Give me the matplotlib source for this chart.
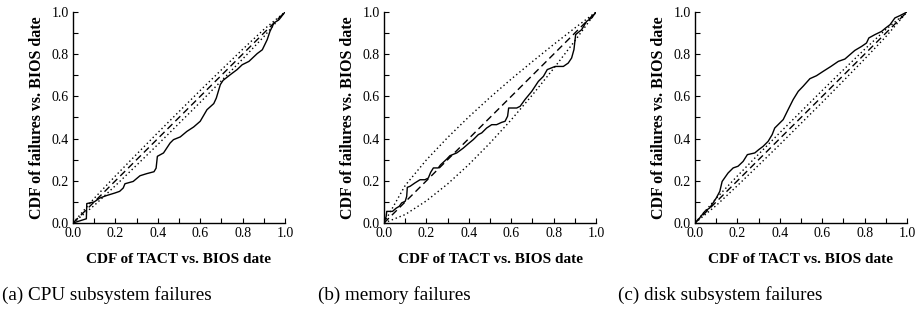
"""
CDF of failures vs. BIOS date against CDF of TACT vs. BIOS date,
for three failure classes (CPU, memory, disk).
"""
import numpy as np
import matplotlib
matplotlib.use('Agg')
import matplotlib.pyplot as plt
from matplotlib.ticker import MultipleLocator

plt.rcParams['font.family'] = ['Liberation Serif', 'DejaVu Serif']

# --- data ------------------------------------------------------------------
cpu_x = [0, 0.063, 0.065, 0.10, 0.126, 0.158, 0.197, 0.22, 0.237, 0.245, 0.284,
         0.316, 0.348, 0.382, 0.392, 0.398, 0.427, 0.458, 0.474, 0.506, 0.537,
         0.569, 0.60, 0.632, 0.664, 0.676, 0.695, 0.708, 0.742, 0.774, 0.798,
         0.83, 0.869, 0.893, 0.916, 0.929, 0.948, 0.972, 1.0]
cpu_y = [0, 0.02, 0.092, 0.10, 0.118, 0.13, 0.142, 0.15, 0.166, 0.186, 0.197,
         0.224, 0.234, 0.243, 0.26, 0.316, 0.332, 0.379, 0.395, 0.408, 0.434,
         0.455, 0.482, 0.537, 0.566, 0.592, 0.656, 0.676, 0.703, 0.727, 0.75,
         0.766, 0.803, 0.821, 0.869, 0.908, 0.948, 0.964, 1.0]

mem_x = [0, 0.01, 0.013, 0.04, 0.057, 0.072, 0.083, 0.10, 0.107, 0.11, 0.123,
         0.146, 0.17, 0.193, 0.209, 0.22, 0.233, 0.256, 0.267, 0.28, 0.296,
         0.311, 0.343, 0.374, 0.398, 0.421, 0.445, 0.461, 0.484, 0.508, 0.531,
         0.555, 0.571, 0.583, 0.588, 0.626, 0.642, 0.665, 0.697, 0.728, 0.752,
         0.77, 0.807, 0.846, 0.869, 0.885, 0.896, 0.904, 0.932, 0.956, 0.98, 1.0]
mem_y = [0, 0.03, 0.055, 0.055, 0.07, 0.079, 0.095, 0.103, 0.126, 0.169, 0.174,
         0.19, 0.205, 0.205, 0.213, 0.24, 0.261, 0.261, 0.276, 0.288, 0.303,
         0.319, 0.332, 0.355, 0.376, 0.395, 0.419, 0.427, 0.45, 0.466, 0.466,
         0.477, 0.482, 0.506, 0.545, 0.545, 0.553, 0.585, 0.624, 0.671, 0.695,
         0.727, 0.742, 0.742, 0.758, 0.782, 0.822, 0.893, 0.916, 0.956, 0.972, 1.0]

disk_x = [0, 0.022, 0.046, 0.069, 0.085, 0.10, 0.117, 0.128, 0.156, 0.18, 0.203,
          0.227, 0.247, 0.282, 0.301, 0.321, 0.345, 0.364, 0.376, 0.40, 0.416,
          0.439, 0.463, 0.487, 0.51, 0.542, 0.573, 0.605, 0.641, 0.676, 0.707,
          0.731, 0.754, 0.786, 0.809, 0.82, 0.849, 0.88, 0.899, 0.92, 0.943,
          0.967, 1.0]
disk_y = [0, 0.024, 0.055, 0.071, 0.095, 0.118, 0.15, 0.197, 0.237, 0.261, 0.269,
          0.292, 0.324, 0.332, 0.348, 0.363, 0.387, 0.419, 0.45, 0.474, 0.49,
          0.537, 0.585, 0.624, 0.648, 0.684, 0.698, 0.719, 0.742, 0.766, 0.777,
          0.798, 0.818, 0.837, 0.853, 0.877, 0.893, 0.908, 0.924, 0.94, 0.972,
          0.983, 1.0]

# confidence bounds (dotted), sampled at bound_x
bound_x = [0, 0.1, 0.2, 0.3, 0.4, 0.5, 0.6, 0.7, 0.8, 0.9, 1.0]
cpu_upper = [0, 0.117, 0.223, 0.326, 0.428, 0.528, 0.628, 0.726, 0.823, 0.917, 1.0]
cpu_lower = [0, 0.083, 0.177, 0.274, 0.372, 0.472, 0.572, 0.674, 0.777, 0.883, 1.0]
mem_upper = [0, 0.178, 0.299, 0.405, 0.503, 0.595, 0.682, 0.765, 0.846, 0.924, 1.0]
mem_lower = [0, 0.04, 0.105, 0.185, 0.277, 0.379, 0.489, 0.607, 0.732, 0.863, 1.0]
disk_upper = [0, 0.117, 0.223, 0.326, 0.428, 0.528, 0.628, 0.726, 0.823, 0.917, 1.0]
disk_lower = [0, 0.083, 0.177, 0.274, 0.372, 0.472, 0.572, 0.674, 0.777, 0.883, 1.0]

captions = ['(a) CPU subsystem failures', '(b) memory failures',
            '(c) disk subsystem failures']

panels = [
    (cpu_x, cpu_y, cpu_upper, cpu_lower),
    (mem_x, mem_y, mem_upper, mem_lower),
    (disk_x, disk_y, disk_upper, disk_lower),
]

# --- layout (pixels of the 924x317 reference) ------------------------------
W, H = 924, 317
fig = plt.figure(figsize=(W / 100, H / 100), dpi=100)

ax_lefts = [73, 384, 695]
cap_lefts = [2, 318, 618]

for (x, y, up, lo), left, cap, cap_left in zip(panels, ax_lefts, captions, cap_lefts):
    ax = fig.add_axes([left / W, 1 - 223 / H, 212 / W, 211 / H])
    ax.plot(bound_x, up, color='k', linestyle=(0, (1, 2)), linewidth=1.0)
    ax.plot(bound_x, lo, color='k', linestyle=(0, (1, 2)), linewidth=1.0)
    ax.plot([0, 1], [0, 1], color='k', linestyle=(0, (5, 3)), linewidth=1.0)
    ax.plot(x, y, color='k', linewidth=1.0)

    ax.set_xlim(0, 1)
    ax.set_ylim(0, 1)
    for side in ('top', 'right'):
        ax.spines[side].set_visible(False)
    for side in ('left', 'bottom'):
        ax.spines[side].set_linewidth(1.0)

    ax.xaxis.set_major_locator(MultipleLocator(0.2))
    ax.xaxis.set_minor_locator(MultipleLocator(0.1))
    ax.yaxis.set_major_locator(MultipleLocator(0.2))
    ax.yaxis.set_minor_locator(MultipleLocator(0.1))
    ax.xaxis.set_major_formatter(plt.FormatStrFormatter('%.1f'))
    ax.yaxis.set_major_formatter(plt.FormatStrFormatter('%.1f'))
    ax.tick_params(which='both', direction='in', length=3.5, width=0.8,
                   labelsize=10, pad=3)

    ax.set_xlabel('CDF of TACT vs. BIOS date', fontsize=11, fontweight='bold',
                  labelpad=9)
    ax.set_ylabel('CDF of failures vs. BIOS date', fontsize=11.5, fontweight='bold',
                  labelpad=5)

    fig.text(cap_left / W, 1 - 295 / H, cap, fontsize=13.8, va='center', ha='left')

fig.savefig('out.png', dpi=100)
plt.close(fig)
